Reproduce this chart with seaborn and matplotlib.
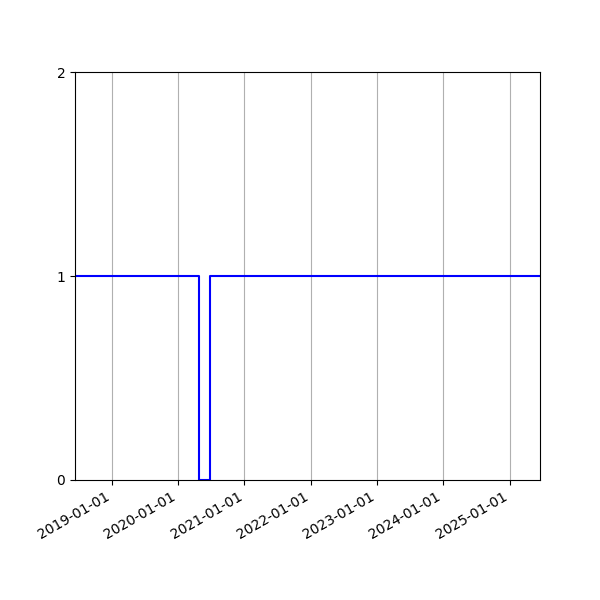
import seaborn as sns
import pandas as pd
import matplotlib
matplotlib.use('Agg')
import matplotlib.pyplot as plt
import matplotlib.dates as mdates

# Step data: status value changes
dates = ['2018-06-12', '2020-04-27', '2020-06-25', '2025-06-18']
values = [1, 0, 1, 1]

df = pd.DataFrame({'date': pd.to_datetime(dates), 'value': values})

fig, ax = plt.subplots(figsize=(6, 6), dpi=100)
sns.lineplot(x='date', y='value', data=df, ax=ax, color='blue',
             drawstyle='steps-post', linewidth=1.5)

ax.set_xlim(df['date'].min(), df['date'].max())
ax.set_ylim(0, 2)
ax.set_yticks([0, 1, 2])
ax.xaxis.set_major_locator(mdates.YearLocator())
ax.xaxis.set_major_formatter(mdates.DateFormatter('%Y-%m-%d'))
ax.grid(True, axis='x', color='#b0b0b0', linewidth=0.8)
ax.set_xlabel('')
ax.set_ylabel('')
fig.autofmt_xdate()

plt.savefig('out.png', dpi=100)
